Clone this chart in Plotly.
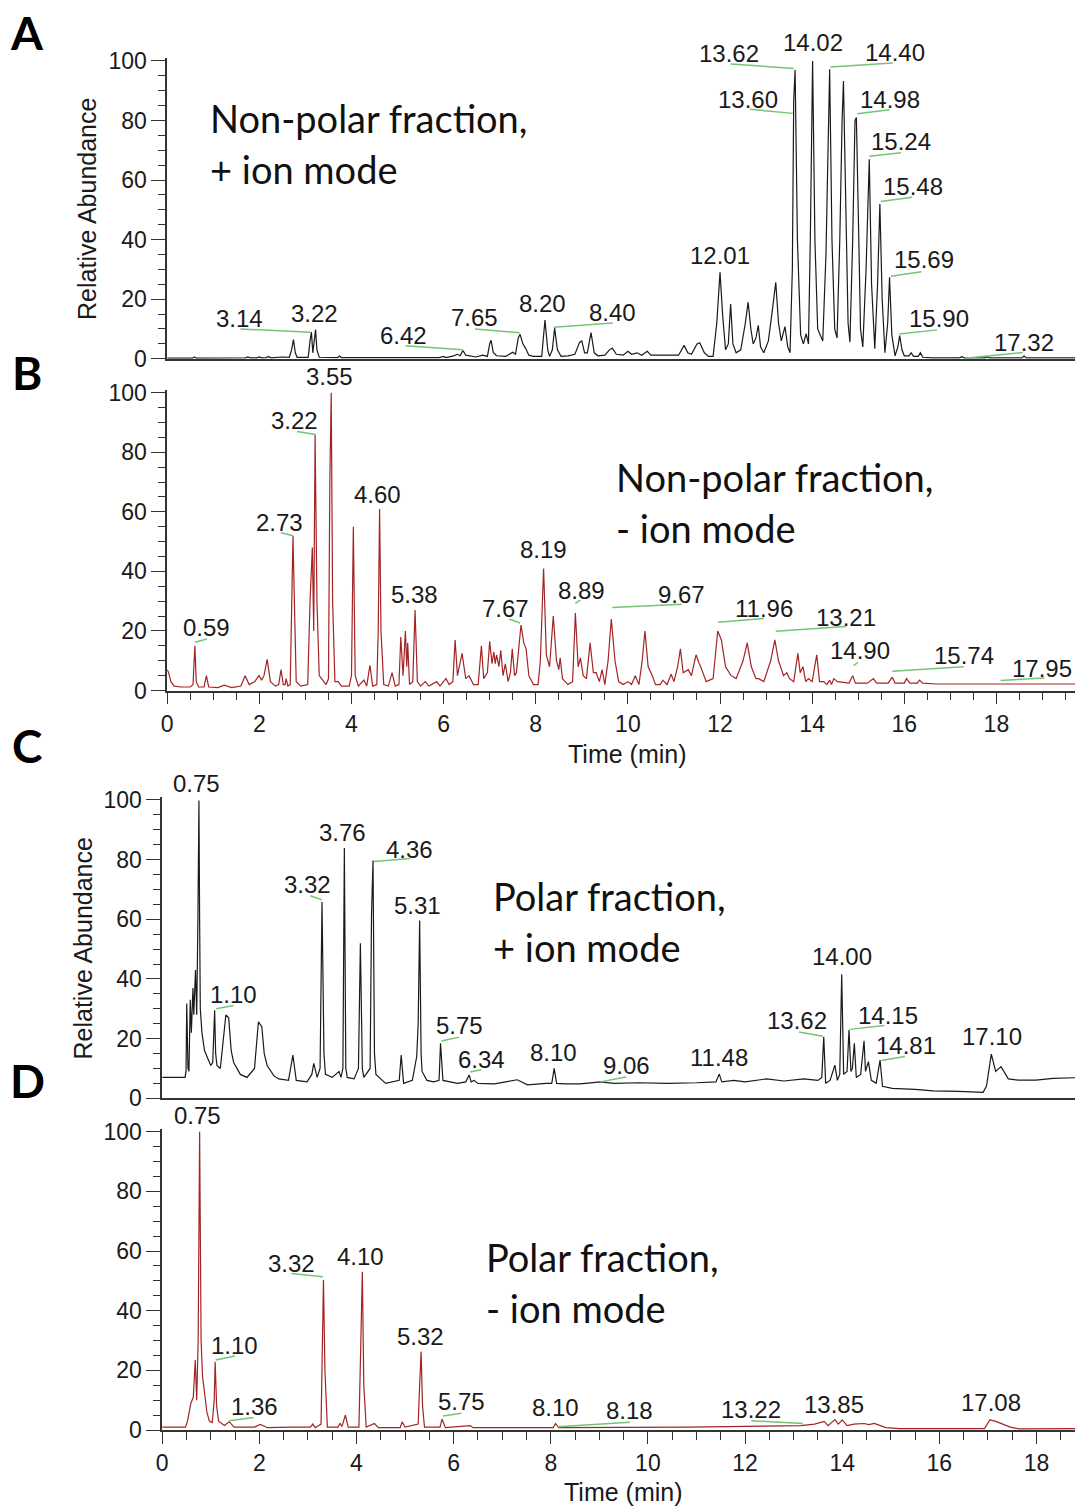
import plotly.graph_objects as go

W, H = 1075, 1508

# ---------------- data (time in min, relative abundance) ----------------
trace_A = [(0,0.2),(0.55,0.2),(0.59,0.6),(0.63,0.2),(1.7,0.3),(1.75,0.6),(1.8,0.3),(1.95,0.3),(2.0,0.6),(2.05,0.3),
 (2.15,0.4),(2.2,0.8),(2.25,0.3),(2.4,0.5),(2.5,0.6),(2.65,0.5),(2.7,3),(2.74,6.4),(2.78,2),(2.82,0.5),(3.06,0.5),
 (3.1,6),(3.13,9),(3.16,2),(3.19,7),(3.22,9.8),(3.25,3),(3.3,0.5),(3.7,0.4),(3.74,0.9),(3.78,0.4),(5.0,0.4),(5.4,0.5),
 (5.9,0.4),(6.0,0.8),(6.05,0.4),(6.2,0.9),(6.3,1.5),(6.36,1.0),(6.42,2.8),(6.48,1.2),(6.6,1.0),(6.7,0.6),(6.85,1.2),
 (6.95,0.8),(7.0,5),(7.03,6.2),(7.08,2),(7.15,1),(7.35,0.8),(7.5,2.2),(7.56,1.5),(7.62,7),(7.66,8.2),(7.72,5),(7.78,3.5),
 (7.85,1.2),(7.95,0.8),(8.13,0.8),(8.2,13),(8.26,3),(8.3,0.8),(8.36,3),(8.41,10.3),(8.47,3),(8.55,0.8),(8.7,1),(8.85,1.5),
 (8.95,5.5),(9.0,6),(9.06,2),(9.12,2),(9.2,8.8),(9.27,2),(9.35,1),(9.5,1.2),(9.6,3),(9.66,3.6),(9.75,1.5),(9.9,1.2),
 (10.0,2.5),(10.08,1.5),(10.2,2),(10.3,1.2),(10.42,2.5),(10.5,1.2),(10.7,1.2),(10.95,1),(11.1,1.2),(11.22,4.5),(11.3,2),
 (11.38,1.5),(11.5,5),(11.56,5.4),(11.66,2),(11.75,0.8),(11.85,0.8),(11.93,12),(12.0,29),(12.06,14),(12.12,3),(12.18,5),
 (12.23,18.4),(12.28,5),(12.35,2),(12.45,3),(12.55,12),(12.61,19),(12.67,10),(12.72,5),(12.78,7),(12.83,11.2),(12.88,4),
 (12.95,2),(13.05,6),(13.15,18),(13.21,25.7),(13.27,12),(13.33,6),(13.41,10.8),(13.47,4),(13.52,2),(13.57,30),(13.6,87),
 (13.63,97),(13.68,40),(13.75,8),(13.81,5),(13.87,8.4),(13.92,5),(13.96,40),(14.01,100),(14.06,40),(14.12,10),(14.23,6),
 (14.3,35),(14.35,73),(14.38,97.2),(14.43,40),(14.49,10),(14.54,7),(14.6,40),(14.65,80),(14.68,93.3),(14.72,60),
 (14.78,12),(14.82,5.6),(14.88,40),(14.93,80),(14.96,81),(15.0,50),(15.05,10),(15.1,4),(15.17,30),(15.24,67),(15.29,25),
 (15.36,3.4),(15.42,25),(15.47,52),(15.52,20),(15.58,2),(15.64,12),(15.68,27.4),(15.73,8),(15.8,1),(15.86,4),(15.9,7.8),
 (15.95,3),(16.0,1),(16.1,1),(16.15,2),(16.2,0.8),(16.3,0.8),(16.35,2),(16.4,0.5),(16.6,0.3),(17.2,0.3),(17.25,0.7),
 (17.3,0.3),(17.75,0.3),(17.8,0.6),(17.85,0.3),(18.55,0.3),(18.6,0.9),(18.65,0.3),(19.8,0.3)]

trace_B = [(0,7),(0.03,6),(0.08,3),(0.15,1.5),(0.3,1.2),(0.5,1.2),(0.56,2),(0.6,15),(0.63,3),(0.68,1.2),(0.8,1.2),
 (0.85,5),(0.9,1.2),(1.1,1),(1.24,1.8),(1.4,1),(1.6,1.5),(1.69,5),(1.78,2),(1.9,3),(1.99,5),(2.05,3.5),(2.1,5),
 (2.17,10.5),(2.24,3),(2.35,1.5),(2.42,2),(2.47,7),(2.52,2),(2.56,2),(2.58,4),(2.62,1.5),(2.67,2),(2.7,35),(2.73,52),
 (2.76,30),(2.8,3),(2.9,1.5),(3.05,2),(3.1,30),(3.15,48),(3.18,20),(3.21,86),(3.25,30),(3.3,5),(3.45,2),(3.5,4),
 (3.53,70),(3.56,100),(3.59,30),(3.64,3),(3.71,3),(3.78,1.5),(3.95,1.5),(4.0,5),(4.04,55),(4.08,5),(4.15,1.5),
 (4.27,3.5),(4.33,1.5),(4.4,8.5),(4.46,1.5),(4.55,2),(4.58,20),(4.61,61),(4.64,20),(4.7,2),(4.8,1.5),(4.88,6),
 (4.95,1.5),(5.03,2),(5.07,18),(5.12,5),(5.17,20),(5.2,8),(5.22,16),(5.26,2),(5.33,3),(5.38,27),(5.43,3),(5.5,1.5),
 (5.6,3),(5.68,1.5),(5.85,3),(5.92,1.5),(6.05,4),(6.12,2),(6.2,3),(6.25,17),(6.3,5),(6.4,12.5),(6.48,4),(6.55,5),
 (6.65,2),(6.75,2),(6.82,15),(6.87,4),(6.95,6),(7.0,16.5),(7.05,9),(7.09,13),(7.12,9),(7.15,12),(7.2,8),(7.24,13.5),
 (7.29,5),(7.34,9),(7.4,3),(7.45,6),(7.49,14),(7.54,5),(7.58,6),(7.63,15),(7.68,22),(7.74,16),(7.79,14),(7.85,5),
 (7.95,2),(8.05,2),(8.1,10),(8.17,41),(8.23,12),(8.3,8),(8.38,25),(8.45,10),(8.5,7),(8.53,11),(8.58,4),(8.7,2),(8.8,3),
 (8.86,26),(8.92,8),(8.97,11),(9.03,5),(9.1,4),(9.18,16),(9.25,6),(9.31,6),(9.38,3),(9.44,7),(9.5,2),(9.57,10),
 (9.64,24),(9.72,10),(9.8,3),(9.9,2),(10.0,3),(10.08,2),(10.16,5),(10.24,2),(10.31,10),(10.37,20),(10.44,8),(10.53,5),
 (10.6,2),(10.7,2),(10.76,3.5),(10.85,2),(10.94,5.5),(11.0,3),(11.08,8),(11.14,14),(11.2,6),(11.31,7),(11.38,5),
 (11.48,12),(11.55,9),(11.58,8),(11.7,3),(11.85,4),(11.95,20),(12.03,17),(12.12,8),(12.24,5),(12.35,4),(12.5,10),
 (12.59,16),(12.68,8),(12.78,4),(12.84,4),(12.95,3),(13.1,10),(13.19,17),(13.27,10),(13.38,5),(13.45,6),(13.51,4),
 (13.6,3),(13.69,12.5),(13.74,6),(13.8,8),(13.86,3),(13.92,4),(14.0,3),(14.1,12),(14.16,3),(14.25,3),(14.32,2),
 (14.38,3.5),(14.42,2),(14.47,4),(14.55,3),(14.8,2.5),(14.88,5),(14.94,2.5),(15.2,2.5),(15.33,4),(15.4,2.5),
 (15.65,2.5),(15.74,4.5),(15.8,2.5),(16.0,2.5),(16.05,4),(16.12,2.5),(16.28,2.5),(16.33,3.5),(16.4,2.5),(16.7,2.2),
 (17.5,2.2),(19.8,2.2)]

trace_C = [(0,7),(0.47,7),(0.49,9),(0.505,31.8),(0.53,10),(0.55,9),(0.577,33),(0.60,22),(0.632,37),(0.65,28),
 (0.685,43),(0.71,28),(0.735,60),(0.756,99.8),(0.77,60),(0.784,30),(0.818,22),(0.87,16),(0.921,14),(1.0,11),(1.04,12),
 (1.079,29.5),(1.10,15),(1.127,11),(1.196,10),(1.25,18),(1.31,27.9),(1.368,27),(1.42,16),(1.471,12),(1.608,8),
 (1.746,7),(1.9,10),(1.98,25.6),(2.05,24),(2.1,15),(2.16,11),(2.3,7.5),(2.4,6.5),(2.6,6),(2.69,14.5),(2.76,6),
 (2.98,5.5),(3.08,8),(3.12,11.7),(3.19,7),(3.25,10),(3.29,65.8),(3.33,15),(3.36,8),(3.5,7),(3.64,9),(3.68,7),
 (3.72,10),(3.75,83.9),(3.78,10),(3.81,7),(3.95,6.5),(4.04,10),(4.08,52),(4.12,10),(4.15,7),(4.28,10),(4.31,62),
 (4.34,79.7),(4.37,15),(4.40,8),(4.6,5),(4.77,5.5),(4.88,6),(4.92,14.5),(4.97,5),(5.15,6),(5.24,14),(5.27,25),
 (5.30,59.6),(5.33,15),(5.35,9),(5.45,6),(5.59,5.5),(5.70,6),(5.73,18.4),(5.78,6),(6.08,5),(6.25,5.5),(6.32,7.8),
 (6.36,5.5),(6.42,6),(6.5,5),(6.84,4.8),(7.31,6.2),(7.52,4.5),(7.9,5),(8.02,5),(8.07,10),(8.12,5),(8.3,4.8),(8.6,4.8),
 (9.03,5.5),(9.3,5),(9.8,5.2),(10.4,5),(11.0,5.2),(11.4,5.5),(11.47,8.1),(11.52,5.5),(11.77,6),(12.0,5.5),(12.44,6.5),
 (12.8,5.8),(13.21,6.5),(13.5,6),(13.58,7),(13.62,20.6),(13.66,5),(13.75,6),(13.85,11.1),(13.9,6),(13.95,8),
 (13.99,41.6),(14.03,8),(14.1,9),(14.14,22.9),(14.18,9),(14.21,10),(14.25,18.4),(14.29,7),(14.38,8),(14.45,19.3),
 (14.48,9),(14.54,12.3),(14.6,6),(14.7,5),(14.78,12.8),(14.83,4),(15.03,3.3),(15.5,3),(15.87,2.5),(16.4,2.3),
 (16.9,2),(16.97,4),(17.07,14.8),(17.16,9),(17.27,10.6),(17.42,6.5),(17.63,6.1),(17.99,6.1),(18.34,6.7),(18.85,6.9)]

trace_D = [(0,1),(0.48,1),(0.52,3),(0.59,9),(0.64,11),(0.68,23.5),(0.71,10),(0.74,30),(0.77,100),(0.8,30),(0.83,18),
 (0.87,12),(0.92,6),(0.97,3),(1.03,2.5),(1.07,10),(1.09,22.9),(1.12,8),(1.16,3),(1.28,1.5),(1.38,2.8),(1.48,1),(1.9,1),
 (2.02,1.9),(2.17,0.8),(2.66,1),(3.05,1),(3.1,2),(3.15,0.8),(3.27,2),(3.3,35),(3.32,50.3),(3.35,20),(3.4,1),(3.62,1),
 (3.66,2.3),(3.7,1.2),(3.77,5),(3.83,1),(4.05,1),(4.09,30),(4.12,53.1),(4.15,15),(4.2,1),(4.37,2.2),(4.45,0.8),
 (4.9,0.8),(4.94,2.8),(5.0,1),(5.27,2),(5.3,15),(5.33,26.3),(5.36,8),(5.4,1),(5.72,1),(5.76,3.7),(5.83,0.8),
 (6.34,1.5),(6.4,0.8),(8.05,0.8),(8.1,2.2),(8.16,0.8),(10.84,1),(12.31,1.2),(13.15,1.5),(13.43,2),(13.63,2.9),
 (13.71,1.5),(13.85,3.5),(13.92,2),(14.0,3.4),(14.1,1.5),(14.24,2),(14.45,2.2),(14.55,1.8),(14.66,2.2),(14.9,0.8),
 (15.18,0.5),(16.93,0.5),(17.04,3.4),(17.15,3),(17.46,1),(17.64,0.4),(18.85,0.5)]

# peak labels: (text, time, abundance of text centre)
labels_A = [("3.14",1.56,13.4),("3.22",3.19,15.1),("6.42",5.13,7.8),("7.65",6.68,13.7),("8.20",8.15,18.5),
 ("8.40",9.67,15.6),("12.01",12.0,34.8),("13.62",12.19,102.4),("13.60",12.6,87.2),("14.02",14.02,106.3),
 ("14.40",15.79,103),("14.98",15.68,87.2),("15.24",15.93,73.1),("15.48",16.2,57.9),("15.69",16.42,33.3),
 ("15.90",16.75,13.4),("17.32",18.6,5.5)]
labels_B = [("0.59",0.86,21.2),("2.73",2.43,56.4),("3.22",2.77,90.7),("3.55",3.52,105.6),("4.60",4.57,65.9),
 ("5.38",5.37,32.4),("7.67",7.34,27.7),("8.19",8.17,47.3),("8.89",8.99,33.7),("9.67",11.17,32.4),("11.96",12.95,27.4),
 ("13.21",14.73,24.6),("14.90",15.03,13.4),("15.74",17.3,11.7),("17.95",19.0,7.3)]
labels_C = [("0.75",0.715,105.5),("1.10",1.47,34.8),("3.32",3.0,71.6),("3.76",3.72,89.1),("4.36",5.1,83.5),
 ("5.31",5.26,64.5),("5.75",6.13,24.4),("6.34",6.57,12.9),("8.10",8.06,15.4),("9.06",9.55,11),("11.48",11.47,13.8),
 ("13.62",13.07,26.1),("14.00",13.99,47.6),("14.15",14.94,27.8),("14.81",15.31,17.7),("17.10",17.08,20.7)]
labels_D = [("0.75",0.72,105.6),("1.10",1.48,28.2),("1.36",1.9,7.8),("3.32",2.66,55.9),("4.10",4.09,58.1),
 ("5.32",5.31,31.5),("5.75",6.16,9.5),("8.10",8.1,7.4),("8.18",9.63,6.5),("13.22",12.13,7.0),("13.85",13.84,8.7),
 ("17.08",17.06,9.3)]

# green leader lines: (t0, y0, t1, y1)
leaders_A = [(1.59,10.0,3.11,8.9),(5.17,4.4,6.41,3.0),(6.68,10.0,7.65,8.7),(8.39,10.6,9.67,12.0),(12.23,99,13.6,97.5),
 (12.65,83.8,13.58,82.4),(14.4,98,15.75,99.3),(14.98,82.3,15.68,83.6),(15.24,68,15.93,69.2),(15.49,52.8,16.17,54.2),
 (15.71,27.7,16.37,29.2),(15.89,8.3,16.71,9.7),(17.31,0.2,18.57,2.1)]
leaders_B = [(0.6,16.2,0.86,17.3),(2.47,53,2.73,52),(2.82,87,3.22,86),(7.42,24,7.66,22.7),(8.86,29.3,8.97,30.4),
 (9.66,27.9,11.17,29),(11.96,22.9,12.95,24.2),(13.21,19.9,14.73,21.5),(14.9,8.4,15.0,9.5),(15.74,6.5,17.29,8.0),
 (18.09,3.4,19.04,4.2)]
leaders_C = [(1.11,30,1.47,31.1),(3.05,67.9,3.29,66.5),(4.36,79.4,5.11,80.4),(5.75,19.2,6.11,20.5),(6.34,8.8,6.57,9.6),
 (9.02,5.5,9.55,7.1),(13.11,22.2,13.6,20.8),(14.15,23.1,14.87,24.4),(14.81,12.7,15.29,14)]
leaders_D = [(1.1,23.5,1.5,24.8),(1.38,3.1,1.88,4.2),(2.66,52.5,3.31,51.4),(5.78,4.7,6.16,5.6),(8.14,1.1,9.63,2.6),
 (12.13,3.1,13.19,2.2)]

panel_titles = [("Non-polar fraction,", "+ ion mode"), ("Non-polar fraction,", "- ion mode"),
                ("Polar fraction,", "+ ion mode"), ("Polar fraction,", "- ion mode")]
panel_letters = ["A", "B", "C", "D"]
y_ticks = [0, 20, 40, 60, 80, 100]
x_ticks = [0, 2, 4, 6, 8, 10, 12, 14, 16, 18]

# ---------------- layout geometry (target pixels) ----------------
# small correction for the way the page is photographed (measured offset/scale)
OX, SX, OY, SY = 6.0, 0.993, 9.0, 0.9854
def ix(p): return (p - OX) / SX          # target px -> figure px
def iy(p): return (p - OY) / SY
def px_x(p): return min(1.0, max(0.0, ix(p) / W))
def px_y(p): return min(1.0, max(0.0, 1 - iy(p) / H))

# each panel: (x px of time 0, px per min, y px of 0, y px of 100)
geom = [(167, 46.0, 358, 60), (167, 46.0, 690, 392), (162, 48.5, 1098, 799.5), (162, 48.5, 1430, 1131.5)]
YTOP = 101
colors = ["#1a1a1a", "#a32424", "#1a1a1a", "#a32424"]
traces = [trace_A, trace_B, trace_C, trace_D]
labels = [labels_A, labels_B, labels_C, labels_D]
leaders = [leaders_A, leaders_B, leaders_C, leaders_D]

FONT = "Liberation Sans, Arial, sans-serif"
TFONT = "Lato, Calibri, sans-serif"
AX = "#333333"

fig = go.Figure()
layout = dict(width=W, height=H, margin=dict(l=0, r=0, t=0, b=0), paper_bgcolor="white",
              plot_bgcolor="white", showlegend=False)
annotations = []

for i in range(4):
    x0, ppm, y0p, y100p = geom[i]
    ppu = (y0p - y100p) / 100.0
    fx0 = ix(x0)
    fppm = ppm / SX
    xmax = (W - fx0) / fppm
    sfx = "" if i == 0 else str(i + 1)
    xr, yr = "x" + sfx, "y" + sfx
    has_xticks = i in (1, 3)
    layout["xaxis" + sfx] = dict(domain=[fx0 / W, 1], range=[0, xmax], anchor=yr, showgrid=False, zeroline=False,
                      showline=True, linecolor=AX, linewidth=1.5,
                      ticks="outside" if has_xticks else "", tickvals=x_ticks if has_xticks else [],
                      ticklen=12, tickwidth=1.3, tickcolor=AX, showticklabels=has_xticks,
                      tickfont=dict(family=FONT, size=23, color="#1a1a1a"),
                      minor=dict(ticks="outside" if has_xticks else "", dtick=0.5, tick0=0, ticklen=8,
                                 tickwidth=1.2, tickcolor=AX, showgrid=False))
    layout["yaxis" + sfx] = dict(domain=[px_y(y0p), px_y(y0p - YTOP * ppu)], range=[0, YTOP], anchor=xr,
                      showgrid=False, zeroline=False, showline=True, linecolor=AX, linewidth=1.5,
                      ticks="outside", tickvals=y_ticks, ticklen=14, tickwidth=1.3, tickcolor=AX,
                      tickfont=dict(family=FONT, size=23, color="#1a1a1a"),
                      minor=dict(ticks="outside", dtick=5, tick0=0, ticklen=7, tickwidth=1.2,
                                 tickcolor=AX, showgrid=False))
    t, a = zip(*traces[i])
    fig.add_trace(go.Scatter(x=list(t), y=list(a), mode="lines", xaxis=xr, yaxis=yr,
                             line=dict(color=colors[i], width=1.2), hoverinfo="skip"))
    lx, ly = [], []
    for (ta, ya_, tb, yb) in leaders[i]:
        lx += [ta, tb, None]
        ly += [ya_, yb, None]
    fig.add_trace(go.Scatter(x=lx, y=ly, mode="lines", xaxis=xr, yaxis=yr,
                             line=dict(color="#74c474", width=1.5), hoverinfo="skip"))
    # labels placed in paper space so that those above 100 % stay visible
    for (txt, tt, yy) in labels[i]:
        annotations.append(dict(text=txt, x=px_x(x0 + tt * ppm), y=px_y(y0p - yy * ppu),
                                xref="paper", yref="paper", showarrow=False,
                                xanchor="center", yanchor="middle",
                                font=dict(family=FONT, size=24, color="#1a1a1a")))

# panel titles (left x px, baseline px of first line)
title_pos = [(208, 132), (613, 491), (490, 910), (483, 1271)]
for i, (l1, l2) in enumerate(panel_titles):
    xl, b1 = title_pos[i]
    for k, line in enumerate((l1, l2)):
        annotations.append(dict(text=line, x=px_x(xl), y=px_y(b1 + 51 * k - 14.5), xref="paper", yref="paper",
                                showarrow=False, xanchor="left", yanchor="middle",
                                font=dict(family=TFONT, size=38, color="#111111")))

letter_pos = [(27, 32), (27, 372), (27, 745), (27, 1080)]
for i, L in enumerate(panel_letters):
    annotations.append(dict(text="<b>%s</b>" % L, x=px_x(letter_pos[i][0]), y=px_y(letter_pos[i][1]),
                            xref="paper", yref="paper", showarrow=False, xanchor="center", yanchor="middle",
                            font=dict(family=TFONT, size=46, color="#000000")))

for (xc, yc) in [(87, 208), (83, 948)]:
    annotations.append(dict(text="Relative Abundance", x=px_x(xc), y=px_y(yc), xref="paper", yref="paper",
                            showarrow=False, textangle=-90, xanchor="center", yanchor="middle",
                            font=dict(family=FONT, size=25, color="#1a1a1a")))
for (xc, yc) in [(627, 753), (623, 1492)]:
    annotations.append(dict(text="Time (min)", x=px_x(xc), y=px_y(yc), xref="paper", yref="paper",
                            showarrow=False, xanchor="center", yanchor="middle",
                            font=dict(family=FONT, size=25, color="#1a1a1a")))

layout["annotations"] = annotations
fig.update_layout(**layout)
fig.write_html("out.html", config={"displayModeBar": False},
               post_script=("document.documentElement.style.margin='0px';"
                            "document.documentElement.style.overflow='hidden';"
                            "document.body.style.margin='0px';"
                            "document.body.style.overflow='hidden';"
                            "document.body.style.height='1508px';"))
